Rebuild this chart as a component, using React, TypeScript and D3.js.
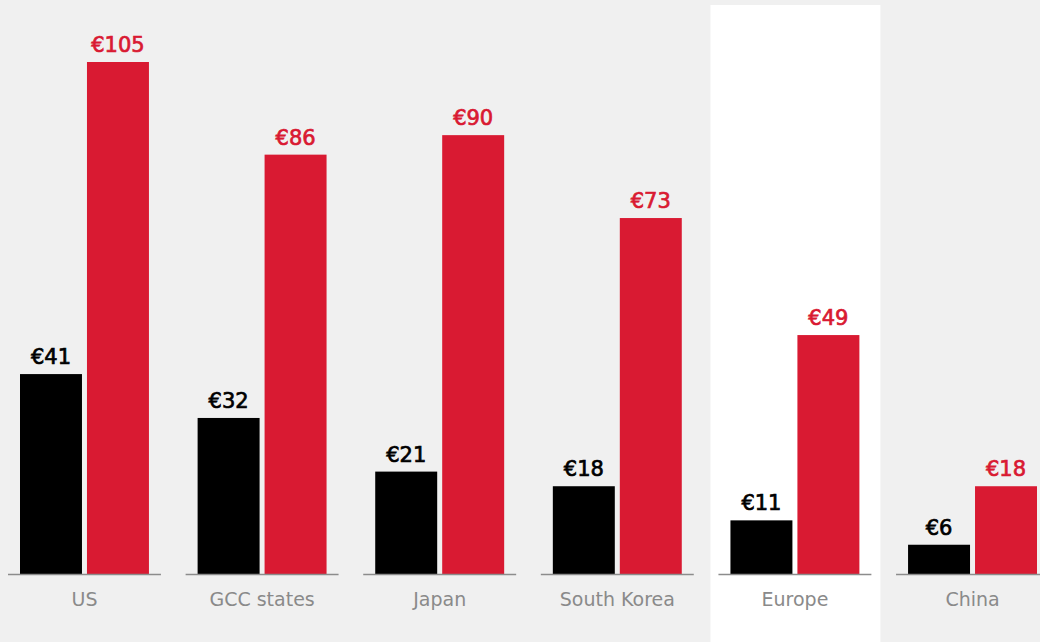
import React from 'react';
import * as d3 from 'd3';

const categories = ['US', 'GCC states', 'Japan', 'South Korea', 'Europe', 'China'];
const blackValues = [41, 32, 21, 18, 11, 6];
const redValues = [105, 86, 90, 73, 49, 18];
const highlighted = 'Europe';

const width = 1040;
const height = 642;
const baseline = 574;
const RED = '#d91a32';

const App = () => {
  // outer scale for the groups, inner one for the two bars
  const x = d3.scaleBand<string>().domain(categories).range([20, 1037]).paddingInner(0.274).paddingOuter(0);
  const inner = d3.scaleBand<string>().domain(['black', 'red']).range([0, x.bandwidth()]).paddingInner(5 / 67);
  const y = d3.scaleLinear().domain([0, 105]).range([baseline, 62]);

  const series = [
    { key: 'black', values: blackValues, color: '#000000' },
    { key: 'red', values: redValues, color: RED },
  ];

  return (
    <div style={{ position: 'absolute', left: 0, top: 0 }}>
      <svg width={width} height={height} style={{ display: 'block', fontFamily: '"DejaVu Sans", sans-serif' }}>
        <rect x={0} y={0} width={width} height={height} fill="#f0f0f0" />
        {categories.map((c) =>
          c === highlighted ? (
            <rect key={'hl' + c} x={(x(c) ?? 0) - 20} y={5} width={x.bandwidth() + 41} height={height - 5} fill="#ffffff" />
          ) : null
        )}
        {categories.map((c, i) => {
          const gx = x(c) ?? 0;
          return (
            <g key={c}>
              {series.map((s) => {
                const bx = gx + (inner(s.key) ?? 0);
                const v = s.values[i];
                return (
                  <g key={s.key}>
                    <rect x={bx} y={y(v)} width={inner.bandwidth()} height={baseline - y(v)} fill={s.color} />
                    <text
                      x={bx + inner.bandwidth() / 2}
                      y={y(v) - 10}
                      textAnchor="middle"
                      fontSize={21}
                      fill={s.color}
                      stroke={s.color}
                      strokeWidth={0.7}
                    >
                      €{v}
                    </text>
                  </g>
                );
              })}
              <line x1={gx - 12} x2={gx + x.bandwidth() + 12} y1={baseline + 0.5} y2={baseline + 0.5} stroke="#8c8c8c" strokeWidth={1.5} />
              <text x={gx + x.bandwidth() / 2} y={606} textAnchor="middle" fontSize={19} fill="#8a8a8a">
                {c}
              </text>
            </g>
          );
        })}
      </svg>
    </div>
  );
};

export default App;
